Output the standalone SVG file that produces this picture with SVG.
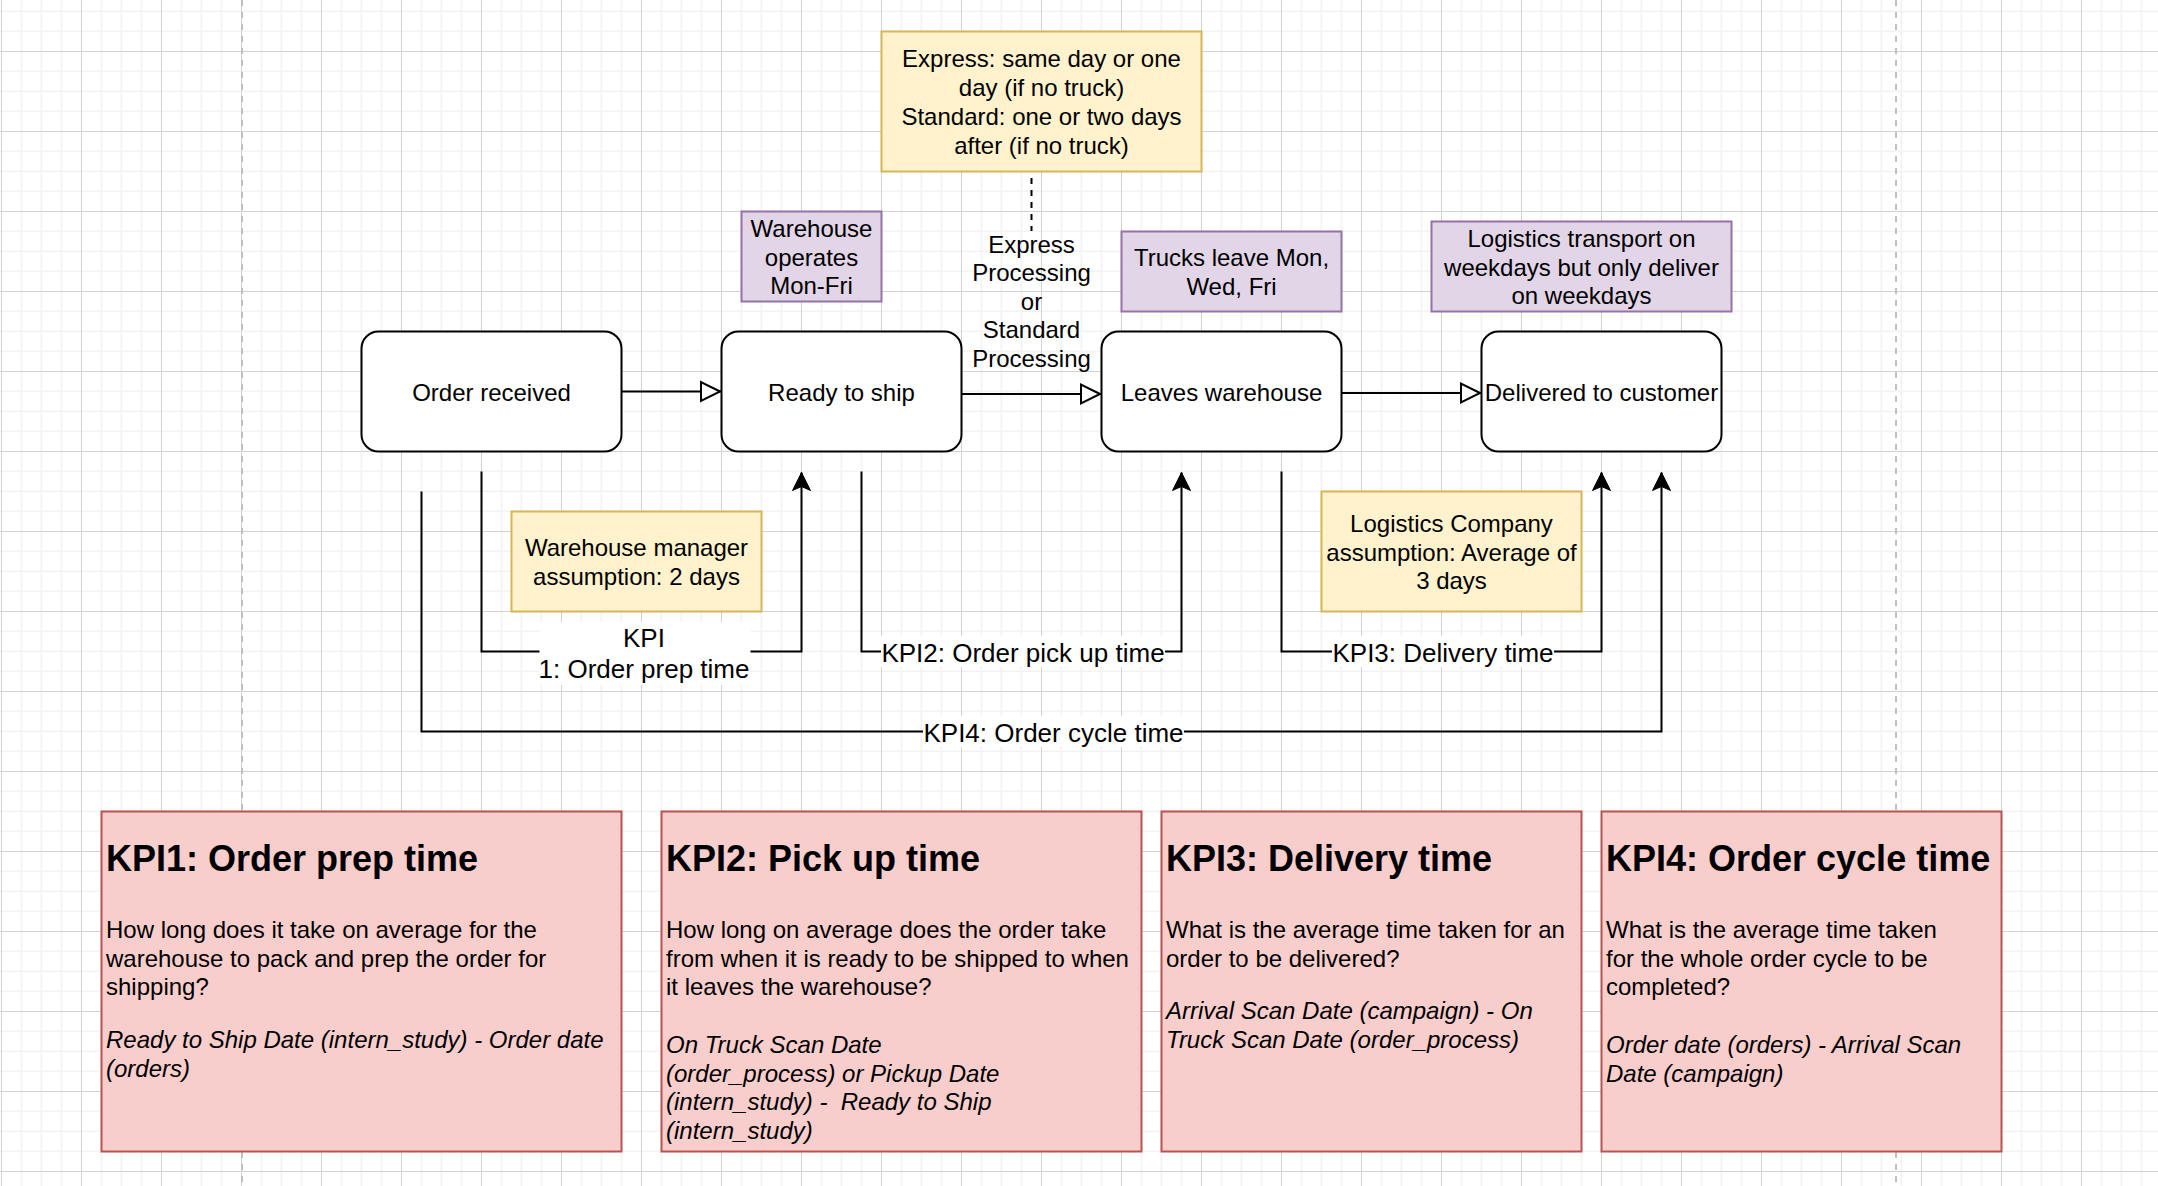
<svg xmlns="http://www.w3.org/2000/svg" width="2158" height="1186" viewBox="0 0 2158 1186">
<style>
text{font-family:"Liberation Sans",Arial,Helvetica,sans-serif;fill:#000;transform:translateY(1.2px)}
.t{font-size:24px;text-anchor:middle}
.el{font-size:26px;text-anchor:middle}
.h{font-size:36px;font-weight:bold}
.b{font-size:24px}
.i{font-size:24px;font-style:italic}
.node{fill:#fff;stroke:#000;stroke-width:2}
.yel{fill:#fff2cc;stroke:#d6b656;stroke-width:2}
.pur{fill:#e1d5e7;stroke:#9673a6;stroke-width:2}
.red{fill:#f8cecc;stroke:#b85450;stroke-width:2}
.edge{fill:none;stroke:#000;stroke-width:2}
.open{marker-end:url(#openBlock)}
.cls{marker-end:url(#classic)}
.lbg{fill:#fff}
.page{stroke:#c0c0c0;stroke-width:2;stroke-dasharray:6 6}
</style>
<defs>
<pattern id="grid" x="0" y="0" width="80" height="80" patternUnits="userSpaceOnUse">
<rect x="0" y="0" width="80" height="80" fill="#fff"/>
<rect x="20.5" y="0" width="1.6" height="80" fill="#f3f3f3"/>
<rect x="40.5" y="0" width="1.6" height="80" fill="#f3f3f3"/>
<rect x="60.5" y="0" width="1.6" height="80" fill="#f3f3f3"/>
<rect x="0" y="10.5" width="80" height="1.6" fill="#f3f3f3"/>
<rect x="0" y="30.5" width="80" height="1.6" fill="#f3f3f3"/>
<rect x="0" y="70.5" width="80" height="1.6" fill="#f3f3f3"/>
<rect x="1" y="0" width="1" height="80" fill="#d2d2d2"/>
<rect x="0" y="51" width="80" height="1" fill="#d2d2d2"/>
</pattern>
<marker id="openBlock" markerUnits="userSpaceOnUse" viewBox="-22 -12 24 24" markerWidth="24" markerHeight="24" refX="0" refY="0" orient="auto">
<path d="M-1,0 L-20,-9.5 L-20,9.5 Z" fill="#fff" stroke="#000" stroke-width="2"/>
</marker>
<marker id="classic" markerUnits="userSpaceOnUse" viewBox="-20 -11 22 22" markerWidth="22" markerHeight="22" refX="0" refY="0" orient="auto">
<path d="M0,0 L-18,-9 L-14,0 L-18,9 Z" fill="#000" stroke="#000" stroke-width="1"/>
</marker>
</defs>
<rect id="background" x="0" y="0" width="2158" height="1186" fill="url(#grid)"/>
<g id="page-breaks">
<line class="page" x1="242" y1="0" x2="242" y2="1186"/>
<line class="page" x1="1896" y1="0" x2="1896" y2="1186"/>
</g>

<g id="connectors">
<path class="edge open" d="M621.5,391.5 H721"/>
<path class="edge open" d="M961.5,394 H1101"/>
<path class="edge open" d="M1341.5,393 H1481"/>
<path class="edge" d="M1031.5,178 V231" stroke-dasharray="6 6"/>
<path class="edge cls" d="M481.5,471.5 V651.5 H801.5 V472.5"/>
<path class="edge cls" d="M861.5,471.5 V651.5 H1181.5 V472.5"/>
<path class="edge cls" d="M1281.5,471.5 V651.5 H1601.5 V472.5"/>
<path class="edge cls" d="M421.5,491.5 V731.5 H1661.5 V472.5"/>
<g id="edge-labels">
<rect class="lbg" x="539.5" y="622" width="211" height="63"/>
<text class="el" x="644" y="646">KPI</text>
<text class="el" x="644" y="677">1: Order prep time</text>
<rect class="lbg" x="881" y="636" width="284" height="31"/>
<text class="el" x="1023" y="661">KPI2: Order pick up time</text>
<rect class="lbg" x="1332" y="636" width="222" height="31"/>
<text class="el" x="1443" y="661">KPI3: Delivery time</text>
<rect class="lbg" x="923" y="716" width="261" height="31"/>
<text class="el" x="1053.5" y="741">KPI4: Order cycle time</text>
<text class="t" x="1031.5" y="251.5">Express</text>
<text class="t" x="1031.5" y="280.1">Processing</text>
<text class="t" x="1031.5" y="308.7">or</text>
<text class="t" x="1031.5" y="337.3">Standard</text>
<text class="t" x="1031.5" y="365.9">Processing</text>
</g>
</g>

<g id="express-note">
<rect class="yel" x="881.5" y="31.5" width="320" height="140"/>
<text class="t" x="1041.5" y="66.2">Express: same day or one</text>
<text class="t" x="1041.5" y="95">day (if no truck)</text>
<text class="t" x="1041.5" y="123.8">Standard: one or two days</text>
<text class="t" x="1041.5" y="152.6">after (if no truck)</text>
</g>
<g id="warehouse-operates">
<rect class="pur" x="741.5" y="211.5" width="140" height="90"/>
<text class="t" x="811.5" y="235.6">Warehouse</text>
<text class="t" x="811.5" y="264.4">operates</text>
<text class="t" x="811.5" y="293.2">Mon-Fri</text>
</g>
<g id="trucks-leave">
<rect class="pur" x="1121.5" y="231.5" width="220" height="80"/>
<text class="t" x="1231.5" y="265">Trucks leave Mon,</text>
<text class="t" x="1231.5" y="293.8">Wed, Fri</text>
</g>
<g id="logistics-transport">
<rect class="pur" x="1431.5" y="221.5" width="300" height="90"/>
<text class="t" x="1581.5" y="245.6">Logistics transport on</text>
<text class="t" x="1581.5" y="274.4">weekdays but only deliver</text>
<text class="t" x="1581.5" y="303.2">on weekdays</text>
</g>
<g id="order-received">
<rect class="node" x="361.5" y="331.5" width="260" height="120" rx="17"/>
<text class="t" x="491.5" y="399.4">Order received</text>
</g>
<g id="ready-to-ship">
<rect class="node" x="721.5" y="331.5" width="240" height="120" rx="17"/>
<text class="t" x="841.5" y="399.4">Ready to ship</text>
</g>
<g id="leaves-warehouse">
<rect class="node" x="1101.5" y="331.5" width="240" height="120" rx="17"/>
<text class="t" x="1221.5" y="399.4">Leaves warehouse</text>
</g>
<g id="delivered">
<rect class="node" x="1481.5" y="331.5" width="240" height="120" rx="17"/>
<text class="t" x="1601.5" y="399.4">Delivered to customer</text>
</g>
<g id="warehouse-manager">
<rect class="yel" x="511.5" y="511.5" width="250" height="100"/>
<text class="t" x="636.5" y="555">Warehouse manager</text>
<text class="t" x="636.5" y="583.8">assumption: 2 days</text>
</g>
<g id="logistics-company">
<rect class="yel" x="1321.5" y="491.5" width="260" height="120"/>
<text class="t" x="1451.5" y="530.6">Logistics Company</text>
<text class="t" x="1451.5" y="559.4">assumption: Average of</text>
<text class="t" x="1451.5" y="588.2">3 days</text>
</g>

<g id="kpi1-card">
<rect class="red" x="101.5" y="811.5" width="520" height="340"/>
<text class="h" x="106" y="870">KPI1: Order prep time</text>
<text class="b" x="106" y="936.7">How long does it take on average for the</text>
<text class="b" x="106" y="965.5">warehouse to pack and prep the order for</text>
<text class="b" x="106" y="994.3">shipping?</text>
<text class="i" x="106" y="1047">Ready to Ship Date (intern_study) - Order date</text>
<text class="i" x="106" y="1075.8">(orders)</text>
</g>
<g id="kpi2-card">
<rect class="red" x="661.5" y="811.5" width="480" height="340"/>
<text class="h" x="666" y="870">KPI2: Pick up time</text>
<text class="b" x="666" y="936.7">How long on average does the order take</text>
<text class="b" x="666" y="965.5">from when it is ready to be shipped to when</text>
<text class="b" x="666" y="994.3">it leaves the warehouse?</text>
<text class="i" x="666" y="1051.7">On Truck Scan Date</text>
<text class="i" x="666" y="1080.5">(order_process) or Pickup Date</text>
<text class="i" x="666" y="1109.3" xml:space="preserve">(intern_study) -  Ready to Ship</text>
<text class="i" x="666" y="1138">(intern_study)</text>
</g>
<g id="kpi3-card">
<rect class="red" x="1161.5" y="811.5" width="420" height="340"/>
<text class="h" x="1166" y="870">KPI3: Delivery time</text>
<text class="b" x="1166" y="936.7">What is the average time taken for an</text>
<text class="b" x="1166" y="965.5">order to be delivered?</text>
<text class="i" x="1166" y="1018.3">Arrival Scan Date (campaign) - On</text>
<text class="i" x="1166" y="1047">Truck Scan Date (order_process)</text>
</g>
<g id="kpi4-card">
<rect class="red" x="1601.5" y="811.5" width="400" height="340"/>
<text class="h" x="1606" y="870">KPI4: Order cycle time</text>
<text class="b" x="1606" y="936.7">What is the average time taken</text>
<text class="b" x="1606" y="965.5">for the whole order cycle to be</text>
<text class="b" x="1606" y="994.3">completed?</text>
<text class="i" x="1606" y="1051.7">Order date (orders) - Arrival Scan</text>
<text class="i" x="1606" y="1080.5">Date (campaign)</text>
</g>
</svg>
